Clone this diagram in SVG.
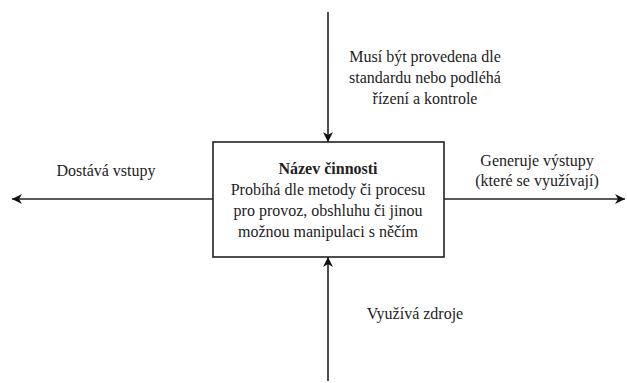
<svg xmlns="http://www.w3.org/2000/svg" width="627" height="383" viewBox="0 0 627 383">
<style>
.t{font-size:16px;fill:#222;text-anchor:middle}
.b{font-weight:bold}
.ln{stroke:#222;stroke-width:1.6;fill:none}
</style>
<defs>
<marker id="ah" viewBox="0 0 10 10" refX="10" refY="5" markerWidth="10" markerHeight="10" markerUnits="userSpaceOnUse" orient="auto">
<path d="M0,0 L10,5 L0,10 L3,5 Z" fill="#111"/>
</marker>
</defs>
<rect width="627" height="383" fill="#fff"/>
<g id="connectors">
<line class="ln" x1="213" y1="199" x2="12" y2="199" marker-end="url(#ah)"/>
<line class="ln" x1="444" y1="199" x2="625" y2="199" marker-end="url(#ah)"/>
<line class="ln" x1="328" y1="12" x2="328" y2="142" marker-end="url(#ah)"/>
<line class="ln" x1="328" y1="381" x2="328" y2="257" marker-end="url(#ah)"/>
</g>
<g font-family="Liberation Serif, DejaVu Serif, serif">
<g id="activity">
<rect x="213" y="142" width="231" height="115" fill="#fff" stroke="#222" stroke-width="1.6"/>
<text class="t b" x="328" y="174">Název činnosti</text>
<text class="t" x="328" y="195">Probíhá dle metody či procesu</text>
<text class="t" x="328" y="216">pro provoz, obshluhu či jinou</text>
<text class="t" x="328" y="237">možnou manipulaci s něčím</text>
</g>
<g id="input">
<text class="t" x="106" y="176">Dostává vstupy</text>
</g>
<g id="output">
<text class="t" x="537" y="166">Generuje výstupy</text>
<text class="t" x="537" y="186">(které se využívají)</text>
</g>
<g id="control">
<text class="t" x="425" y="62">Musí být provedena dle</text>
<text class="t" x="425" y="83">standardu nebo podléhá</text>
<text class="t" x="425" y="104">řízení a kontrole</text>
</g>
<g id="resources">
<text class="t" x="415" y="319">Využívá zdroje</text>
</g>
</g>
</svg>
